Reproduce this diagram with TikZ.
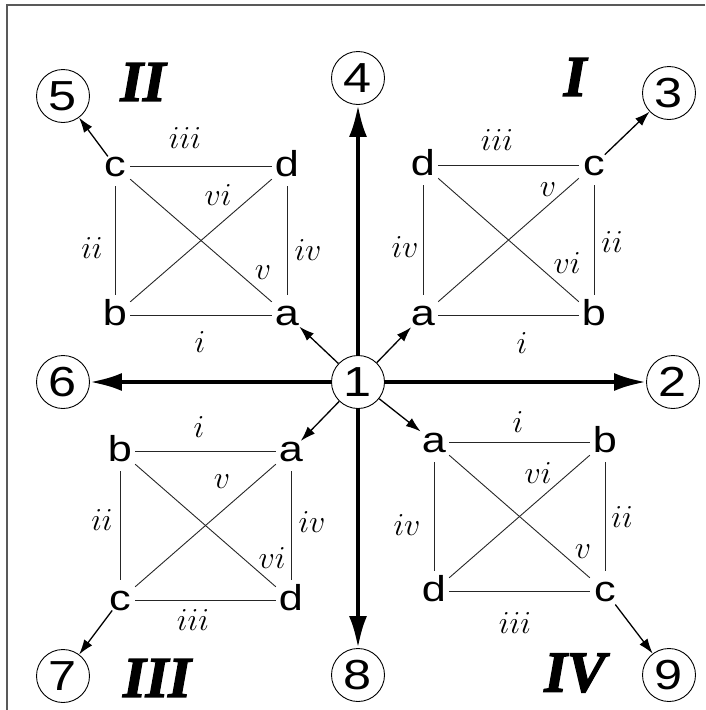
\documentclass[tikz,border=0pt]{standalone}
\usepackage{fix-cm}
\usepackage{fontspec}
\newfontfamily\letfont[FakeStretch=1.2]{Liberation Sans}
\newfontfamily\quadfont[BoldItalicFeatures={FakeBold=2.5}]{Liberation Serif}
\usetikzlibrary{arrows.meta}
\tikzset{
  num/.style={circle, draw, line width=0.9pt, minimum size=53pt, inner sep=0pt,
    font=\letfont\fontsize{42}{42}\selectfont},
  letter/.style={rectangle, minimum width=30pt, minimum height=40pt, inner sep=0pt,
    text height=21pt, text depth=0pt,
    font=\letfont\fontsize{36}{36}\selectfont},
  rom/.style={inner sep=0pt, font=\fontsize{32}{32}\selectfont},
  quad/.style={inner sep=0pt, font=\quadfont\bfseries\itshape\fontsize{58}{58}\selectfont},
  sqedge/.style={line width=0.9pt, black!85},
  bigarrow/.style={line width=4pt, -{Latex[length=32pt,width=18pt]}},
  smallarrow/.style={line width=1.3pt, -{Latex[length=15pt,width=10pt]}},
}
\begin{document}
\begin{tikzpicture}[x=1pt,y=-1pt]
\useasboundingbox (0,0) rectangle (705,710);
\draw[line width=1.5pt, black!65] (705,5) -- (7,5) -- (7,710);
% numbered circles
\node[num] (n1) at (358,382) {1};
\node[num] (n2) at (673,382) {2};
\node[num] (n3) at (669,93) {3};
\node[num] (n4) at (358,78) {4};
\node[num] (n5) at (63,96) {5};
\node[num] (n6) at (63,382) {6};
\node[num] (n7) at (63,676) {7};
\node[num] (n8) at (358,675) {8};
\node[num] (n9) at (669,675) {9};
% quadrant I
\node[letter] (Id) at (423,165) {d};
\node[letter] (Ic) at (594,165) {c};
\node[letter] (Ia) at (423,315) {a};
\node[letter] (Ib) at (594,315) {b};
% quadrant II
\node[letter] (IIc) at (115,166) {c};
\node[letter] (IId) at (287,166) {d};
\node[letter] (IIb) at (115,315) {b};
\node[letter] (IIa) at (287,315) {a};
% quadrant III
\node[letter] (IIIb) at (120,451) {b};
\node[letter] (IIIa) at (291,451) {a};
\node[letter] (IIIc) at (120,600) {c};
\node[letter] (IIId) at (291,600) {d};
% quadrant IV
\node[letter] (IVa) at (434,442) {a};
\node[letter] (IVb) at (605,442) {b};
\node[letter] (IVd) at (434,591) {d};
\node[letter] (IVc) at (605,591) {c};
% square edges
\foreach \q in {I,II,III,IV}{
  \draw[sqedge] (\q a) -- (\q b);
  \draw[sqedge] (\q b) -- (\q c);
  \draw[sqedge] (\q c) -- (\q d);
  \draw[sqedge] (\q d) -- (\q a);
  \draw[sqedge] (\q a) -- (\q c);
  \draw[sqedge] (\q b) -- (\q d);
}
% roman edge labels
\node[rom] (IliII) at (497,140) {$iii$};
\node[rom] (IliV) at (405,247) {$iv$};
\node[rom] (Ilii) at (612,242) {$ii$};
\node[rom] (Ili) at (522,343) {$i$};
\node[rom] (Ilv) at (548,190) {$v$};
\node[rom] (Ilvi) at (567,263) {$vi$};
\node[rom] (IIliii) at (185,138) {$iii$};
\node[rom] (IIlii) at (92,248) {$ii$};
\node[rom] (IIliv) at (308,250) {$iv$};
\node[rom] (IIli) at (200,342) {$i$};
\node[rom] (IIlvi) at (218,195) {$vi$};
\node[rom] (IIlv) at (263,273) {$v$};
\node[rom] (IIIli) at (199,427) {$i$};
\node[rom] (IIIlii) at (102,520) {$ii$};
\node[rom] (IIIliv) at (312,522) {$iv$};
\node[rom] (IIIliii) at (193,620) {$iii$};
\node[rom] (IIIlv) at (222,482) {$v$};
\node[rom] (IIIlvi) at (272,558) {$vi$};
\node[rom] (IVli) at (518,422) {$i$};
\node[rom] (IVlvi) at (538,473) {$vi$};
\node[rom] (IVlii) at (622,517) {$ii$};
\node[rom] (IVliv) at (407,525) {$iv$};
\node[rom] (IVlv) at (583,552) {$v$};
\node[rom] (IVliii) at (515,623) {$iii$};
% quadrant labels
\node[quad] (QI) at (575,77) {I};
\node[quad] (QII) at (143,82) {II};
\node[quad] (QIII) at (157,678) {III};
\node[quad] (QIV) at (575,673) {IV};
% big arrows
\draw[bigarrow] (n1) -- (n2);
\draw[bigarrow] (n1) -- (n4);
\draw[bigarrow] (n1) -- (n6);
\draw[bigarrow] (n1) -- (n8);
% small arrows
\draw[smallarrow, shorten >=17pt] (n1) -- (Ia.center);
\draw[smallarrow, shorten >=17pt] (n1) -- (IIa.center);
\draw[smallarrow, shorten >=14pt] (n1) -- (IIIa.center);
\draw[smallarrow, shorten >=17pt] (n1) -- (IVa.center);
\draw[smallarrow, shorten <=15pt] (Ic.center) -- (n3);
\draw[smallarrow, shorten <=12pt] (IIc.center) -- (n5);
\draw[smallarrow, shorten <=13pt] (IIIc.center) -- (n7);
\draw[smallarrow, shorten <=17pt] (IVc.center) -- (n9);
\end{tikzpicture}
\end{document}
